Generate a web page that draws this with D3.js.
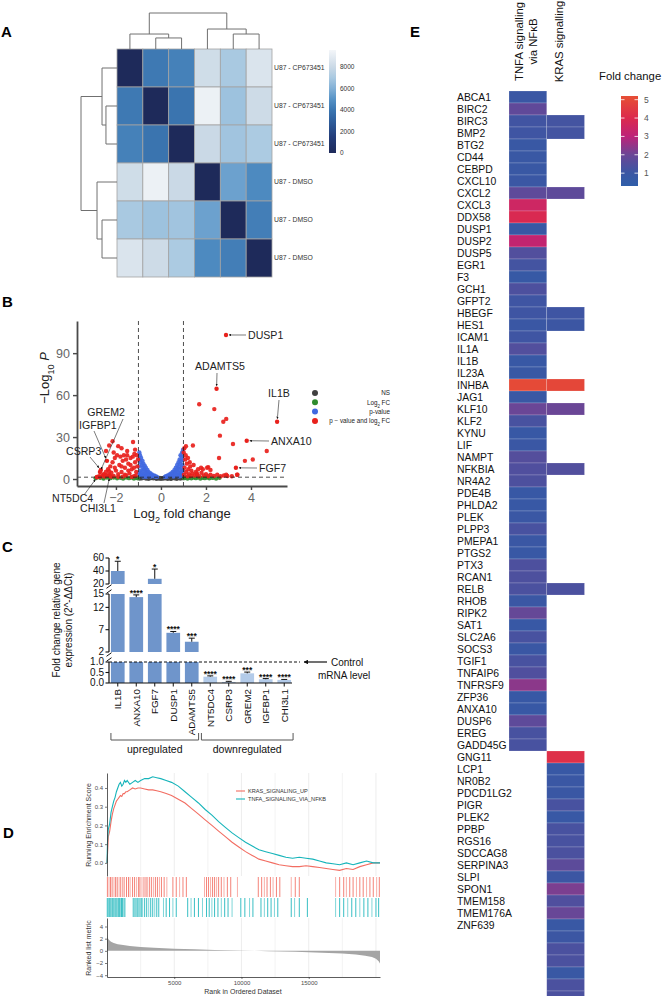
<!DOCTYPE html>
<html>
<head>
<meta charset="utf-8">
<script src="https://cdn.jsdelivr.net/npm/d3@7"></script>
<style>
  body { margin: 0; background: #fff; }
  svg { display: block; }
  text { font-family: "Liberation Sans", Arial, sans-serif; }
</style>
</head>
<body>
<svg id="fig" width="663" height="996"></svg>
<script>
// ---- A: sample-to-sample distances ----
const sampleNames = ["U87 - CP673451", "U87 - CP673451", "U87 - CP673451", "U87 - DMSO", "U87 - DMSO", "U87 - DMSO"];
const sampleDist = [
  [0, 4100, 4400, 8200, 7000, 8600],
  [4100, 0, 3900, 9300, 6700, 8100],
  [4400, 3900, 0, 8000, 6800, 7100],
  [8200, 9300, 8000, 0, 5500, 4700],
  [7000, 6700, 6800, 5500, 0, 4300],
  [8600, 8100, 7100, 4700, 4300, 0]
];
// [left, right, height]; nodes >= 6 are earlier merges
const sampleMerges = [[1, 2, 4200], [0, 6, 5700], [4, 5, 5700], [3, 8, 7600], [7, 9, 13700]];
const distTicks = [0, 2000, 4000, 6000, 8000];

// ---- B: volcano (log2FC, -log10 P) ----
const nsPts = [[-0.98,0.8],[-0.9,1.1],[-0.85,0.5],[-0.78,0.9],[-0.7,1.2],[-0.66,0.4],[-0.6,0.9],[-0.52,1.1],[-0.46,0.6],[-0.4,1.0],[-0.34,0.5],[-0.28,0.9],[-0.22,0.6],[-0.16,1.0],[-0.1,0.4],[-0.05,0.7],[0,0.2],[0.05,0.6],[0.1,0.3],[0.14,0.9],[0.2,0.5],[0.25,1.1],[0.31,0.6],[0.37,1.0],[0.43,0.4],[0.49,0.9],[0.55,1.2],[0.6,0.5],[0.67,1.0],[0.73,0.6],[0.8,1.1],[0.86,0.4],[0.92,0.9],[0.97,0.6],[-0.94,0.3],[-0.2,0.1],[0.3,0.1],[0.7,0.2],[-0.55,0.2],[0.45,0.15]];
const fcPts = [[-2.9,0.6],[-2.7,0.9],[-2.55,0.4],[-2.4,1.0],[-2.25,0.6],[-2.1,1.1],[-1.95,0.5],[-1.8,0.9],[-1.68,0.3],[-1.55,1.0],[-1.42,0.6],[-1.3,1.1],[-1.2,0.4],[-1.1,0.9],[-1.03,0.5],[1.03,0.6],[1.1,1.1],[1.18,0.4],[1.25,0.9],[1.35,0.5],[1.45,1.0],[1.55,0.6],[1.65,1.1],[1.75,0.4],[1.85,0.9],[1.95,0.6],[2.05,1.0],[2.15,0.5],[2.3,0.8],[2.45,0.4],[2.6,0.9]];
const pPts = [[-0.95,14],[-0.93,17],[-0.9,12],[-0.88,15],[-0.85,10],[-0.82,13],[-0.8,8],[-0.78,11],[-0.75,7],[-0.72,9.5],[-0.7,6],[-0.67,8],[-0.65,5],[-0.6,6.5],[-0.58,4],[-0.55,5],[-0.5,3.5],[-0.47,4.2],[-0.42,2.8],[-0.4,3.3],[-0.35,2.2],[-0.3,2.6],[-0.27,1.8],[-0.22,1.9],[-0.18,1.5],[-0.97,9],[-0.9,6],[-0.85,5],[-0.78,4],[-0.7,3.5],[-0.62,2.8],[-0.55,2.2],[-0.45,1.8],[-0.97,4],[-0.92,3],[-0.86,2.5],[-0.8,2],[-0.75,1.7],[-0.65,1.6],[-0.96,19],
  [0.18,1.5],[0.22,2],[0.27,1.7],[0.3,2.5],[0.35,2.2],[0.38,3.2],[0.42,2.8],[0.45,4],[0.5,3.5],[0.52,5],[0.56,4.2],[0.6,6.5],[0.63,5],[0.66,8],[0.7,6],[0.72,10],[0.75,7.5],[0.78,12],[0.8,9],[0.83,14],[0.85,11],[0.87,17],[0.9,13],[0.92,16],[0.94,19],[0.96,10],[0.98,14],[0.97,6],[0.9,5],[0.85,4],[0.78,3],[0.7,2.5],[0.62,2.2],[0.55,1.8],[0.95,3],[0.88,2.2],[0.8,1.8],[0.92,8],[0.83,6.5],[0.74,4.5],[0.65,3.2],[0.98,21]];
const sigPts = [[-2.85,1.5],[-2.75,2],[-2.7,1.6],[-2.6,2.5],[-2.55,3.5],[-2.5,1.8],[-2.45,5],[-2.4,2.6],[-2.35,7],[-2.3,3],[-2.25,9],[-2.2,4.5],[-2.15,12],[-2.1,2.2],[-2.05,15],[-2.0,6],[-1.95,17],[-1.9,3.5],[-1.85,10],[-1.8,16],[-1.75,5],[-1.7,13],[-1.65,17],[-1.6,8],[-1.55,2.5],[-1.5,17],[-1.45,11],[-1.4,4],[-1.35,15],[-1.3,7],[-1.25,16],[-1.2,2],[-1.15,12],[-1.1,5],[-1.05,9],[-1.02,14],[-1.08,17],[-1.18,18],[-1.6,3],[-1.7,1.7],[-1.9,1.6],[-2.2,1.7],[-2.5,2.8],[-1.3,1.5],[-1.12,2.4],[-1.45,6],[-1.75,9],[-2.05,8],[-2.3,5.5],[-1.55,14],[-1.35,10],[-1.2,8],
  [-2.44,20],[-2.3,24],[-1.9,23.5],[-1.75,22],[-1.24,26.5],[-2.15,27],[-1.15,21],[-1.5,20],[-2.1,19],
  [1.02,3],[1.05,8],[1.08,14],[1.1,17],[1.12,5],[1.15,11],[1.18,2],[1.2,15],[1.22,7],[1.25,3.5],[1.28,12],[1.3,9],[1.33,2.2],[1.35,6],[1.4,4],[1.45,10],[1.5,2.5],[1.55,5],[1.6,3],[1.65,7],[1.7,2],[1.8,4.5],[1.9,2.5],[2.0,3.5],[2.1,2],[2.2,3],[2.35,2.2],[2.5,3],[2.65,2],[2.8,2.5],[2.95,2.2],[3.15,2],[3.4,3],[1.01,19],[1.04,22],
  [1.70,53.5],[2.37,50],[2.9,43],[2.77,41],[2.62,31],[3.2,25],[2.58,15],[3.73,13],[4.08,14],[4.7,20],[1.42,24],[1.11,23.5],[1.78,8],[2.05,8],[2.2,6.5],[1.86,7],[2.1,8.5],[1.6,4],[2.9,3],[3.38,3]];
const volcanoGenes = ["DUSP1", "ADAMTS5", "IL1B", "ANXA10", "FGF7", "GREM2", "IGFBP1", "CSRP3", "NT5DC4", "CHI3L1"];
const volcanoFC = [2.89, 2.47, 5.16, 3.81, 3.33, -2.71, -2.4, -2.67, -2.84, -2.27];
const volcanoLogP = [103, 64.5, 41, 27.4, 8, 5, 13, 6.4, 1.2, 2.2];
const volcanoKeys = ["NS", "Log2 FC", "p-value", "p - value and log2 FC"];

// ---- C: qPCR validation ----
const qpcrGenes = ["IL1B", "ANXA10", "FGF7", "DUSP1", "ADAMTS5", "NT5DC4", "CSRP3", "GREM2", "IGFBP1", "CHI3L1"];
const qpcrMean = [40, 14.3, 28, 6.3, 4.3, 0.3, 0.05, 0.46, 0.18, 0.15];
const qpcrErr = [15, 0.5, 15, 0.3, 0.8, 0.04, 0.03, 0.06, 0.03, 0.02];
const qpcrStars = ["*", "****", "*", "****", "***", "****", "****", "***", "****", "****"];
const qpcrDir = ["up", "up", "up", "up", "up", "down", "down", "down", "down", "down"];

// ---- D: GSEA ----
const esRanks = [0,40,100,200,300,400,500,600,700,800,900,1000,1100,1200,1300,1400,1500,1700,1900,2100,2300,2500,2800,3100,3400,3700,4000,4400,4800,5300,5800,6300,6800,7300,7800,8300,8800,9300,9800,10300,10800,11300,11800,12300,12800,13300,13800,14300,14800,15300,15800,16300,16800,17300,17800,18300,18800,19300,19800,20300];
const tnfaES = [0,0.12,0.18,0.21,0.27,0.30,0.33,0.35,0.38,0.40,0.42,0.43,0.41,0.42,0.44,0.43,0.44,0.42,0.43,0.44,0.43,0.44,0.45,0.45,0.46,0.455,0.45,0.44,0.43,0.41,0.38,0.35,0.32,0.285,0.255,0.22,0.19,0.16,0.135,0.11,0.09,0.07,0.06,0.05,0.04,0.03,0.025,0.03,0.025,0.02,0.01,0.0,-0.005,-0.01,0.0,-0.01,0.0,0.01,0.0,0.0];
const krasES = [0,0.05,0.14,0.17,0.22,0.26,0.29,0.31,0.33,0.34,0.35,0.36,0.355,0.37,0.37,0.38,0.38,0.39,0.40,0.395,0.40,0.40,0.395,0.39,0.39,0.385,0.38,0.37,0.36,0.34,0.32,0.29,0.26,0.23,0.20,0.17,0.14,0.11,0.085,0.06,0.04,0.02,0.01,0.0,-0.01,-0.015,-0.02,-0.02,-0.015,-0.02,-0.025,-0.03,-0.035,-0.04,-0.03,-0.035,-0.02,-0.01,0.0,0.0];
const krasHits = [30,150,260,380,520,640,760,900,1020,1180,1300,1450,1600,1720,1900,2050,2200,2350,2450,2600,2750,2900,3000,3150,3300,3450,3600,3750,3900,4050,4250,4450,4900,5150,5400,5650,5900,7250,7400,7550,7700,7850,8000,8150,8300,8500,8700,8950,9200,9700,11250,11500,11700,11900,12150,12350,12600,12850,13700,14000,14300,17000,17300,17600,17800,18050,18300,18550,18800,19050,19300,19550,19800,20050,20250];
const tnfaHits = [20,90,160,230,300,380,450,520,600,680,760,840,920,1000,1080,1160,1250,1330,1950,2050,2150,2250,2350,2450,2550,2650,2800,2950,3100,3250,3400,3550,3700,3850,4200,4400,4650,4900,5150,6000,6250,6500,6800,7100,7400,7600,7800,8000,8250,8500,8750,9000,9300,9950,10250,10600,10850,11450,11700,11950,12200,12450,12700,13700,13950,14300,14900,17000,17300,17600,17900,18200,18500,18800,19100,19400,19700,20000,20200];
const metricRanks = [0,50,150,300,500,800,1200,1700,2500,3500,5000,6500,8000,10000,12000,14000,16000,17500,18500,19200,19700,20000,20200,20300];
const metricVals = [2.6,2.1,1.8,1.5,1.3,1.1,0.95,0.8,0.65,0.5,0.35,0.25,0.15,0.05,-0.05,-0.15,-0.3,-0.45,-0.6,-0.8,-1.0,-1.3,-1.7,-2.1];
const gseaSets = ["KRAS_SIGNALING_UP", "TNFA_SIGNALING_VIA_NFKB"];

// ---- E: leading-edge fold changes ----
const heatGenes = ["ABCA1","BIRC2","BIRC3","BMP2","BTG2","CD44","CEBPD","CXCL10","CXCL2","CXCL3","DDX58","DUSP1","DUSP2","DUSP5","EGR1","F3","GCH1","GFPT2","HBEGF","HES1","ICAM1","IL1A","IL1B","IL23A","INHBA","JAG1","KLF10","KLF2","KYNU","LIF","NAMPT","NFKBIA","NR4A2","PDE4B","PHLDA2","PLEK","PLPP3","PMEPA1","PTGS2","PTX3","RCAN1","RELB","RHOB","RIPK2","SAT1","SLC2A6","SOCS3","TGIF1","TNFAIP6","TNFRSF9","ZFP36","ANXA10","DUSP6","EREG","GADD45G","GNG11","LCP1","NR0B2","PDCD1LG2","PIGR","PLEK2","PPBP","RGS16","SDCCAG8","SERPINA3","SLPI","SPON1","TMEM158","TMEM176A","ZNF639","","","","","",""];
const tnfaFC = [1.0,1.8,1.15,1.1,0.95,0.95,0.95,1.0,1.75,3.5,3.9,0.95,3.2,1.5,1.2,0.8,1.4,1.1,1.1,1.0,1.1,1.5,0.9,0.95,5.0,0.95,2.0,1.3,0.9,1.0,1.55,1.45,1.4,0.9,0.9,1.0,1.3,1.0,0.9,1.4,1.4,1.35,1.0,1.9,0.9,1.3,1.0,1.3,1.45,2.4,0.9,0.9,1.75,1.3,1.3,
  null,null,null,null,null,null,null,null,null,null,null,null,null,null,null,null,null,null,null,null,null];
const krasFC = [null,null,1.2,1.2,null,null,null,null,1.75,null,null,null,null,null,null,null,null,null,1.1,1.05,null,null,null,null,4.9,null,2.0,null,null,null,null,1.5,null,null,null,null,null,null,null,null,null,1.35,null,null,null,null,null,null,null,null,null,null,null,null,null,
  4.2,0.9,1.0,1.0,1.3,0.9,1.3,1.3,1.35,1.7,1.05,2.2,1.45,1.95,0.95,1.05,1.35,1.35,0.95,1.35,1.35];
const fcTicks = [1, 2, 3, 4, 5];

const svg = d3.select("#fig");
svg.append("rect").attr("width", 663).attr("height", 996).attr("fill", "#fff");

function subText(sel, parts, size) {
  parts.forEach(p => {
    const t = sel.append("tspan").text(p[0]);
    if (p[1] === "sub") t.attr("baseline-shift", "sub").attr("font-size", size * 0.7);
    if (p[1] === "it") t.attr("font-style", "italic");
  });
}

[["A", 1, 37], ["B", 2, 307], ["C", 2, 552], ["D", 3, 838], ["E", 410, 37]].forEach(d => {
  svg.append("text").attr("x", d[1]).attr("y", d[2]).attr("font-size", 15).attr("font-weight", "bold").text(d[0]);
});

// ================= A =================
const hmX = 117, hmY = 49, hmW = 155, hmH = 228;
const nA = sampleNames.length;
const ax = d3.scaleBand().domain(d3.range(nA)).range([hmX, hmX + hmW]);
const ay = d3.scaleBand().domain(d3.range(nA)).range([hmY, hmY + hmH]);
const distColor = d3.scaleLinear()
  .domain([0, 1500, 3000, 4000, 5000, 6000, 7000, 8000, 9600])
  .range(["#1e2a5a", "#233d7a", "#2f5f9d", "#3b76b1", "#5592c6", "#82b0d6", "#a9c9e1", "#cad9e6", "#f4f6f9"])
  .clamp(true);

const gA = svg.append("g");
sampleDist.forEach((row, i) => row.forEach((v, j) => {
  gA.append("rect").attr("x", ax(j)).attr("y", ay(i))
    .attr("width", ax.bandwidth()).attr("height", ay.bandwidth())
    .attr("fill", distColor(v)).attr("stroke", "#a3a3a3").attr("stroke-width", 0.8);
}));

const hA = d3.scaleLinear().domain([0, 13700]).range([0, 36]);
const pos = d3.range(nA).map(i => ax(i) + ax.bandwidth() / 2);
const posR = d3.range(nA).map(i => ay(i) + ay.bandwidth() / 2);
const ht = d3.range(nA).map(() => 0);
sampleMerges.forEach(m => {
  const [a, b, d] = m;
  gA.append("path")
    .attr("d", `M${pos[a]},${hmY - hA(ht[a])}V${hmY - hA(d)}H${pos[b]}V${hmY - hA(ht[b])}`)
    .attr("fill", "none").attr("stroke", "#707070").attr("stroke-width", 1);
  gA.append("path")
    .attr("d", `M${hmX - hA(ht[a])},${posR[a]}H${hmX - hA(d)}V${posR[b]}H${hmX - hA(ht[b])}`)
    .attr("fill", "none").attr("stroke", "#707070").attr("stroke-width", 1);
  pos.push((pos[a] + pos[b]) / 2);
  posR.push((posR[a] + posR[b]) / 2);
  ht.push(d);
});

sampleNames.forEach((s, i) => {
  gA.append("text").attr("x", hmX + hmW + 2).attr("y", posR[i] + 2.4)
    .attr("font-size", 6.8).attr("fill", "#333").text(s);
});

const defs = svg.append("defs");
const cbA = d3.scaleLinear().domain([0, 9600]).range([153, 50]);
const gradA = defs.append("linearGradient").attr("id", "gradA").attr("x1", 0).attr("y1", 1).attr("x2", 0).attr("y2", 0);
distColor.domain().forEach(v => gradA.append("stop").attr("offset", v / 9600).attr("stop-color", distColor(v)));
gA.append("rect").attr("x", 329).attr("y", 50).attr("width", 7).attr("height", 103).attr("fill", "url(#gradA)");
distTicks.forEach(t => {
  gA.append("text").attr("x", 340).attr("y", cbA(t) + 2.2).attr("font-size", 6.5).attr("fill", "#333").text(t);
});

// ================= B =================
const vx = d3.scaleLinear().domain([-3.73, 5.6]).range([77, 287]);
const vy = d3.scaleLinear().domain([-5, 113]).range([486, 321]);
const gB = svg.append("g");
function styleAxis(g, col, w, size, tcol) {
  g.select(".domain").attr("stroke", col).attr("stroke-width", w);
  g.selectAll(".tick line").attr("stroke", col).attr("stroke-width", w * 0.8);
  g.selectAll(".tick text").attr("font-size", size).attr("fill", tcol).attr("font-family", "Liberation Sans, Arial, sans-serif");
}
const pointSets = [[nsPts, "#404040"], [fcPts, "#2e8b2e"], [pPts, "#4169e1"], [sigPts, "#e8211c"]];
pointSets.forEach(([pts, col]) => {
  gB.selectAll(null).data(pts).join("circle")
    .attr("cx", d => vx(d[0])).attr("cy", d => vy(d[1])).attr("r", 2.2)
    .attr("fill", col).attr("fill-opacity", 0.92);
});
gB.selectAll(null).data(volcanoGenes).join("circle")
  .attr("cx", (d, i) => vx(volcanoFC[i])).attr("cy", (d, i) => vy(volcanoLogP[i])).attr("r", 2.2)
  .attr("fill", "#e8211c");

const dash = "4,3";
[-1, 1].forEach(v => gB.append("line").attr("x1", vx(v)).attr("x2", vx(v)).attr("y1", 321).attr("y2", 486)
  .attr("stroke", "#222").attr("stroke-width", 0.8).attr("stroke-dasharray", dash));
gB.append("line").attr("x1", 77).attr("x2", 287).attr("y1", vy(1.3)).attr("y2", vy(1.3))
  .attr("stroke", "#222").attr("stroke-width", 0.8).attr("stroke-dasharray", dash);

const byAx = gB.append("g").attr("transform", "translate(77,0)")
  .call(d3.axisLeft(vy).tickValues([0, 30, 60, 90]).tickSize(4).tickSizeOuter(0).tickPadding(3));
styleAxis(byAx, "#4a4a4a", 1.8, 12.5, "#666");
const bxAx = gB.append("g").attr("transform", "translate(0,486)")
  .call(d3.axisBottom(vx).tickValues([-2, 0, 2, 4]).tickSize(4).tickSizeOuter(0).tickPadding(3));
styleAxis(bxAx, "#4a4a4a", 1.8, 12.5, "#666");

const xl = gB.append("text").attr("x", 182).attr("y", 518).attr("text-anchor", "middle").attr("font-size", 13).attr("fill", "#222");
subText(xl, [["Log"], ["2", "sub"], [" fold change"]], 13);
const yl = gB.append("text").attr("transform", "translate(49,378) rotate(-90)").attr("text-anchor", "middle").attr("font-size", 13).attr("fill", "#222");
subText(yl, [["\u2212Log"], ["10", "sub"], [" "], ["P", "it"]], 13);

defs.append("marker").attr("id", "arr").attr("viewBox", "0 0 10 10").attr("refX", 9).attr("refY", 5)
  .attr("markerWidth", 4).attr("markerHeight", 4).attr("orient", "auto")
  .append("path").attr("d", "M0,0L10,5L0,10z").attr("fill", "#111");

// label placement (pixels): text x, text y, anchor, leader start x, y
const volcanoLabelPos = {
  DUSP1: [248, 339, "start", 246, 335],
  ADAMTS5: [220, 370, "middle", 217, 373],
  IL1B: [279, 397, "middle", 279, 400],
  ANXA10: [271, 445, "start", 269, 441],
  FGF7: [259, 472, "start", 257, 468],
  GREM2: [125, 416, "end", 123, 419],
  IGFBP1: [79, 429, "start", 94, 431],
  CSRP3: [66, 455, "start", 90, 457],
  NT5DC4: [52, 502, "start", 84, 495],
  CHI3L1: [80, 512, "start", 104, 503]
};
volcanoGenes.forEach((g, i) => {
  const [tx, ty, anc, lx, ly] = volcanoLabelPos[g];
  const px = vx(volcanoFC[i]), py = vy(volcanoLogP[i]);
  const dx = px - lx, dy = py - ly, len = Math.hypot(dx, dy);
  gB.append("line").attr("x1", lx).attr("y1", ly)
    .attr("x2", px - dx / len * 3).attr("y2", py - dy / len * 3)
    .attr("stroke", "#222").attr("stroke-width", 0.6).attr("marker-end", "url(#arr)");
  gB.append("text").attr("x", tx).attr("y", ty).attr("text-anchor", anc)
    .attr("font-family", "Lato, 'Open Sans', sans-serif").attr("font-size", 10.6).attr("fill", "#222").text(g);
});

const keyCols = ["#404040", "#2e8b2e", "#4169e1", "#e8211c"];
const keyParts = [[["NS"]], [["Log"], ["2", "sub"], [" FC"]], [["p-value"]], [["p \u2212 value and log"], ["2", "sub"], [" FC"]]];
volcanoKeys.forEach((k, i) => {
  const y = 393 + i * 9.3;
  gB.append("circle").attr("cx", 315).attr("cy", y).attr("r", 3).attr("fill", keyCols[i]);
  const t = gB.append("text").attr("x", 390).attr("y", y + 2.2).attr("text-anchor", "end").attr("font-size", 6.3).attr("fill", "#222");
  subText(t, keyParts[i], 6.3);
});

// ================= C =================
const gC = svg.append("g");
const cTop = d3.scaleLinear().domain([20, 60]).range([584, 558]);
const cMid = d3.scaleLinear().domain([2, 15]).range([652, 594]);
const cLow = d3.scaleLinear().domain([0, 1]).range([683, 662]);
const cx = d3.scaleBand().domain(qpcrGenes).range([110, 292]).paddingInner(0.26).paddingOuter(0.05);
function cY(v) { return v <= 1 ? cLow(v) : v <= 15 ? cMid(Math.max(v, 2)) : cTop(Math.min(v, 60)); }
const axX = 109;

qpcrGenes.forEach((g, i) => {
  const v = qpcrMean[i], x = cx(g), w = cx.bandwidth();
  const fill = qpcrDir[i] === "up" ? "#6f95cb" : "#b3cbe9";
  gC.append("rect").attr("x", x).attr("width", w).attr("y", cLow(Math.min(v, 1))).attr("height", cLow(0) - cLow(Math.min(v, 1))).attr("fill", fill);
  if (v > 2) gC.append("rect").attr("x", x).attr("width", w).attr("y", cMid(Math.min(v, 15))).attr("height", cMid(2) - cMid(Math.min(v, 15))).attr("fill", fill);
  if (v > 20) gC.append("rect").attr("x", x).attr("width", w).attr("y", cTop(v)).attr("height", cTop(20) - cTop(v)).attr("fill", fill);
  const xc = x + w / 2, y1 = cY(v), y2 = cY(v + qpcrErr[i]);
  gC.append("line").attr("x1", xc).attr("x2", xc).attr("y1", y1).attr("y2", y2).attr("stroke", "#111").attr("stroke-width", 1);
  gC.append("line").attr("x1", xc - 3).attr("x2", xc + 3).attr("y1", y2).attr("y2", y2).attr("stroke", "#111").attr("stroke-width", 1);
  gC.append("text").attr("x", xc).attr("y", y2 + 1).attr("text-anchor", "middle").attr("font-size", 8.5).attr("font-weight", "bold").attr("fill", "#111").text(qpcrStars[i]);
  gC.append("line").attr("x1", xc).attr("x2", xc).attr("y1", 683).attr("y2", 686.5).attr("stroke", "#111");
  gC.append("text").attr("transform", `translate(${xc + 3.5},689) rotate(-90)`).attr("text-anchor", "end")
    .attr("font-size", 9.8).attr("fill", "#111").text(g);
});

gC.append("line").attr("x1", axX).attr("x2", 300).attr("y1", cLow(1)).attr("y2", cLow(1))
  .attr("stroke", "#111").attr("stroke-width", 1).attr("stroke-dasharray", "3,2");

[[cTop, [20, 40, 60], d3.format("d")], [cMid, [2, 7, 12, 15], d3.format("d")], [cLow, [0, 0.5, 1], d3.format(".1f")]].forEach(([s, ticks, f]) => {
  const r = s.range();
  gC.append("line").attr("x1", axX).attr("x2", axX).attr("y1", r[0]).attr("y2", r[1]).attr("stroke", "#111").attr("stroke-width", 1.2);
  ticks.forEach(t => {
    gC.append("line").attr("x1", axX - 3.5).attr("x2", axX).attr("y1", s(t)).attr("y2", s(t)).attr("stroke", "#111").attr("stroke-width", 1.1);
    gC.append("text").attr("x", axX - 5).attr("y", s(t) + 3.4).attr("text-anchor", "end").attr("font-size", 10).attr("fill", "#111").text(f(t));
  });
});
[586.5, 591.5, 654.5, 659.5].forEach(y => gC.append("line").attr("x1", axX - 2.5).attr("x2", axX + 2.5).attr("y1", y + 1.8).attr("y2", y - 1.8).attr("stroke", "#111").attr("stroke-width", 1));
gC.append("line").attr("x1", axX).attr("x2", 292).attr("y1", 683).attr("y2", 683).attr("stroke", "#111").attr("stroke-width", 1.2);

const yt = gC.append("text").attr("transform", "translate(60,620) rotate(-90)").attr("text-anchor", "middle").attr("font-size", 10).attr("fill", "#111");
yt.append("tspan").attr("x", 0).attr("dy", 0).text("Fold change relative gene");
yt.append("tspan").attr("x", 0).attr("dy", 12).text("expression (2^-\u0394\u0394Ct)");

const upX = [cx(qpcrGenes[0]), cx(qpcrGenes[4]) + cx.bandwidth()];
const dnX = [cx(qpcrGenes[5]) - 2, cx(qpcrGenes[9]) + cx.bandwidth() + 2];
[[upX, "upregulated"], [dnX, "downregulated"]].forEach(([xs, lab]) => {
  gC.append("path").attr("d", `M${xs[0]},733V740H${xs[1]}V733`).attr("fill", "none").attr("stroke", "#555").attr("stroke-width", 1);
  gC.append("text").attr("x", (xs[0] + xs[1]) / 2).attr("y", 753).attr("text-anchor", "middle").attr("font-size", 10.5).attr("fill", "#111").text(lab);
});
gC.append("line").attr("x1", 327).attr("x2", 304).attr("y1", cLow(1)).attr("y2", cLow(1)).attr("stroke", "#111").attr("stroke-width", 1.2).attr("marker-end", "url(#arr)");
gC.append("text").attr("x", 331).attr("y", cLow(1) + 3.5).attr("font-size", 10).attr("fill", "#111").text("Control");
gC.append("text").attr("x", 318).attr("y", cLow(1) + 17).attr("font-size", 10).attr("fill", "#111").text("mRNA level");

// ================= D =================
const gD = svg.append("g");
const gx = d3.scaleLinear().domain([0, 20300]).range([107, 380]);
const esY = d3.scaleLinear().domain([-0.07, 0.48]).range([876, 773]);
const metY = d3.scaleLinear().domain([-4.3, 5.4]).range([977, 918]);
const setCols = ["#f26d62", "#16b4ba"];

d3.range(2500, 20300, 2500).forEach(r => {
  [[773, 876], [918, 977]].forEach(([a, b]) => gD.append("line").attr("x1", gx(r)).attr("x2", gx(r)).attr("y1", a).attr("y2", b)
    .attr("stroke", "#ebebeb").attr("stroke-width", r % 5000 === 0 ? 0.9 : 0.6));
});

const esLine = vals => d3.line().x((d, i) => gx(esRanks[i])).y(d => esY(d))(vals);
gD.append("path").attr("d", esLine(krasES)).attr("fill", "none").attr("stroke", setCols[0]).attr("stroke-width", 1.1);
gD.append("path").attr("d", esLine(tnfaES)).attr("fill", "none").attr("stroke", setCols[1]).attr("stroke-width", 1.1);

[[krasHits, setCols[0], 877, 897], [tnfaHits, setCols[1], 898, 917]].forEach(([hits, col, a, b]) => {
  gD.selectAll(null).data(hits).join("line")
    .attr("x1", d => gx(d)).attr("x2", d => gx(d)).attr("y1", a).attr("y2", b)
    .attr("stroke", col).attr("stroke-width", 1).attr("stroke-opacity", (d, i) => i % 3 === 1 ? 0.55 : 0.85);
});

const metArea = d3.area().x((d, i) => gx(metricRanks[i])).y0(metY(0)).y1(d => metY(d));
gD.append("path").attr("d", metArea(metricVals)).attr("fill", "#a5a5a5");

const esAx = gD.append("g").attr("transform", "translate(107,0)")
  .call(d3.axisLeft(esY).tickValues([0, 0.1, 0.2, 0.3, 0.4]).tickFormat(d3.format(".1f")).tickSize(2).tickSizeOuter(0).tickPadding(2));
styleAxis(esAx, "#333", 0.8, 6, "#4d4d4d");
const metAx = gD.append("g").attr("transform", "translate(107,0)")
  .call(d3.axisLeft(metY).tickValues([-4, -2, 0, 2, 4]).tickSize(2).tickSizeOuter(0).tickPadding(2));
styleAxis(metAx, "#333", 0.8, 6, "#4d4d4d");
const rkAx = gD.append("g").attr("transform", "translate(0,977)")
  .call(d3.axisBottom(gx).tickValues([5000, 10000, 15000]).tickFormat(d3.format("d")).tickSize(2).tickSizeOuter(0).tickPadding(1.5));
styleAxis(rkAx, "#333", 0.8, 6, "#4d4d4d");

gD.append("text").attr("transform", "translate(91,825) rotate(-90)").attr("text-anchor", "middle").attr("font-size", 7).attr("fill", "#333").text("Running Enrichment Score");
gD.append("text").attr("transform", "translate(91,948) rotate(-90)").attr("text-anchor", "middle").attr("font-size", 7).attr("fill", "#333").text("Ranked list metric");
gD.append("text").attr("x", 243).attr("y", 994).attr("text-anchor", "middle").attr("font-size", 7).attr("fill", "#333").text("Rank in Ordered Dataset");

gseaSets.forEach((s, i) => {
  const y = 791 + i * 8;
  gD.append("line").attr("x1", 236).attr("x2", 245).attr("y1", y).attr("y2", y).attr("stroke", setCols[i]).attr("stroke-width", 1.1);
  gD.append("text").attr("x", 248).attr("y", y + 2).attr("font-size", 5.6).attr("fill", "#333").text(s);
});

// ================= E =================
const gE = svg.append("g");
const eRow = d3.scaleBand().domain(d3.range(heatGenes.length)).range([91, 91 + 12 * heatGenes.length]);
const eCol = d3.scaleBand().domain(["TNFA", "KRAS"]).range([509, 584.5]);
const fcColor = d3.scaleLinear()
  .domain([0.3, 1, 2, 3, 4, 5, 5.2])
  .range(["#2f5ea9", "#3a57a4", "#6a4696", "#bd2379", "#dc2a4d", "#e54a37", "#e64d36"])
  .clamp(true);

[["TNFA", tnfaFC], ["KRAS", krasFC]].forEach(([c, vals]) => {
  vals.forEach((v, i) => {
    if (v == null) return;
    gE.append("rect").attr("x", eCol(c)).attr("y", eRow(i)).attr("width", eCol.bandwidth()).attr("height", eRow.bandwidth())
      .attr("fill", fcColor(v)).attr("stroke", "#ffffff").attr("stroke-opacity", 0.3).attr("stroke-width", 0.6);
  });
});
heatGenes.forEach((g, i) => {
  if (!g) return;
  gE.append("text").attr("x", 457).attr("y", eRow(i) + 10).attr("font-size", 10.4).attr("fill", "#111").text(g);
});

[["TNFA signalling", 523], ["via NF\u03baB", 537], ["KRAS signalling", 563]].forEach(([t, x]) => {
  gE.append("text").attr("transform", `translate(${x},41.5) rotate(-90)`).attr("text-anchor", "middle").attr("font-size", 11.4).attr("fill", "#111").text(t);
});

gE.append("text").attr("x", 599).attr("y", 80).attr("font-size", 11.3).attr("fill", "#111").text("Fold change");
const lgY = d3.scaleLinear().domain([0.3, 5.2]).range([186, 96]);
const gradE = defs.append("linearGradient").attr("id", "gradE").attr("x1", 0).attr("y1", 1).attr("x2", 0).attr("y2", 0);
fcColor.domain().forEach(v => gradE.append("stop").attr("offset", (v - 0.3) / 4.9).attr("stop-color", fcColor(v)));
gE.append("rect").attr("x", 621).attr("y", 96).attr("width", 17).attr("height", 90).attr("fill", "url(#gradE)");
fcTicks.forEach(t => {
  [[621, 624.5], [634.5, 638]].forEach(([a, b]) => gE.append("line").attr("x1", a).attr("x2", b).attr("y1", lgY(t)).attr("y2", lgY(t)).attr("stroke", "#fff").attr("stroke-width", 0.8));
  gE.append("text").attr("x", 644).attr("y", lgY(t) + 3).attr("font-size", 8.5).attr("fill", "#555").text(t);
});
</script>
</body>
</html>
